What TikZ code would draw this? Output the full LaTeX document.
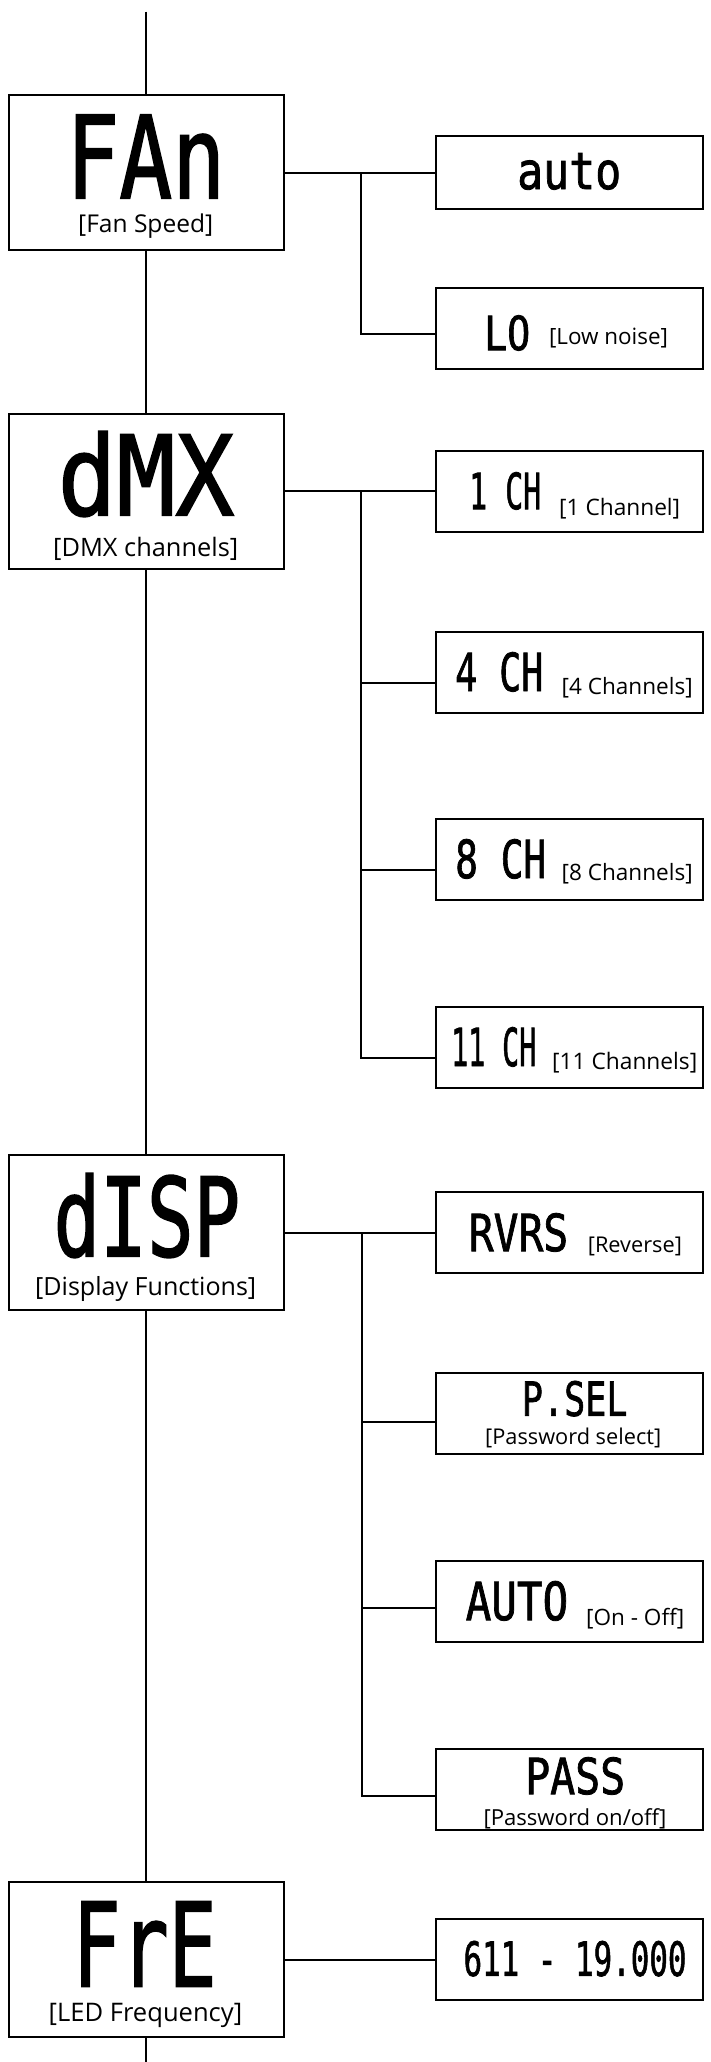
\documentclass[tikz,border=0pt]{standalone}
\usepackage{fontspec}
\usepackage{graphicx}
\usetikzlibrary{calc}
\newfontfamily\segfont[FakeBold=1.6]{DejaVu Sans Mono}
\newfontfamily\labfont{Open Sans}
\newcommand\segtxt[3]{\resizebox{#1pt}{#2pt}{\segfont #3}}
\newcommand\labtxt[2]{\resizebox{#1pt}{!}{\labfont #2}}
\tikzset{
  mainbox/.style={draw, line width=2pt, minimum width=274.5pt, minimum height=155pt, inner sep=0pt},
  optbox/.style={draw, line width=2pt, minimum width=267pt, minimum height=81pt, inner sep=0pt},
  seg/.style={anchor=south west, inner sep=0pt},
  lab/.style={anchor=north west, inner sep=0pt},
  wire/.style={line width=2pt},
}
\begin{document}
\begin{tikzpicture}[x=1pt,y=-1pt]
\useasboundingbox (0,0) rectangle (710,2062);

% main boxes
\node[mainbox] (fan)  at (146.25,172.8)  {};
\node[mainbox] (dmx)  at (146.25,491.3)  {};
\node[mainbox] (disp) at (146.25,1232.8) {};
\node[mainbox] (fre)  at (146.25,1959.7) {};

% option boxes
\node[optbox, minimum height=73pt] (auto) at (569.5,172.8) {};
\node[optbox] (lo)    at (569.5,328.75) {};
\node[optbox] (ch1)   at (569.5,491.3)  {};
\node[optbox] (ch4)   at (569.5,672.8)  {};
\node[optbox] (ch8)   at (569.5,859.5)  {};
\node[optbox] (ch11)  at (569.5,1047.7) {};
\node[optbox] (rvrs)  at (569.5,1232.8) {};
\node[optbox] (psel)  at (569.5,1413)   {};
\node[optbox] (onoff) at (569.5,1601.7) {};
\node[optbox] (pass)  at (569.5,1789.5) {};
\node[optbox] (freq)  at (569.5,1959.7) {};

% main texts
\node[seg] (fan-d)  at (66,198.3)    {\segtxt{159}{83.3}{FAn}};
\node[lab] (fan-l)  at (78,213.3)    {\labtxt{135}{[Fan Speed]}};
\node[seg] (dmx-d)  at (57.5,517)    {\segtxt{176.5}{84}{dMX}};
\node[lab] (dmx-l)  at (53,536.7)    {\labtxt{185}{[DMX channels]}};
\node[seg] (disp-d) at (53.4,1258)   {\segtxt{186.6}{83}{dISP}};
\node[lab] (disp-l) at (35,1276.7)   {\labtxt{221}{[Display Functions]}};
\node[seg] (fre-d)  at (72.4,1986.7) {\segtxt{144}{85}{FrE}};
\node[lab] (fre-l)  at (48.5,2003.3) {\labtxt{193.5}{[LED Frequency]}};

% option texts
\node[seg] (auto-d)  at (517,190)     {\segtxt{104}{36}{auto}};
\node[seg] (lo-d)    at (484,351)     {\segtxt{46}{35}{LO}};
\node[lab] (lo-l)    at (548.8,328)   {\labtxt{119}{[Low noise]}};
\node[seg] (ch1-d)   at (469,510)     {\segtxt{72}{37}{1 CH}};
\node[lab] (ch1-l)   at (559,498.3)   {\labtxt{121}{[1 Channel]}};
\node[seg] (ch4-d)   at (455,692)     {\segtxt{88}{39}{4 CH}};
\node[lab] (ch4-l)   at (561.5,676.7) {\labtxt{131}{[4 Channels]}};
\node[seg] (ch8-d)   at (455,879)     {\segtxt{91}{39}{8 CH}};
\node[lab] (ch8-l)   at (561.5,863.3) {\labtxt{131}{[8 Channels]}};
\node[seg] (ch11-d)  at (451,1067)    {\segtxt{85}{39}{11 CH}};
\node[lab] (ch11-l)  at (552,1051.7)  {\labtxt{145}{[11 Channels]}};
\node[seg] (rvrs-d)  at (468.6,1252)  {\segtxt{99.4}{38}{RVRS}};
\node[lab] (rvrs-l)  at (587.7,1236.7){\labtxt{94}{[Reverse]}};
\node[seg] (psel-d)  at (521.7,1416.7){\segtxt{105.6}{35}{P.SEL}};
\node[lab] (psel-l)  at (485,1428)    {\labtxt{176}{[Password select]}};
\node[seg] (onoff-d) at (465.5,1621)  {\segtxt{102.5}{39}{AUTO}};
\node[lab] (onoff-l) at (586,1608.3)  {\labtxt{98}{[On - Off]}};
\node[seg] (pass-d)  at (525,1795)    {\segtxt{100}{37}{PASS}};
\node[lab] (pass-l)  at (483.3,1808)  {\labtxt{183}{[Password on/off]}};
\node[seg] (freq-d)  at (463.3,1976.7){\segtxt{223}{35}{611 - 19.000}};

% trunk
\coordinate (top) at (146.25,11.7);
\coordinate (bot) at (146.25,2062);
\draw[wire] (top) -- (fan.north);
\draw[wire] (fan.south) -- (dmx.north);
\draw[wire] (dmx.south) -- (disp.north);
\draw[wire] (disp.south) -- (fre.north);
\draw[wire] (fre.south) -- (bot);

% branch points and inputs
\coordinate (fb) at ($(fan.east)!0.505!(auto.west)$);
\coordinate (db) at ($(dmx.east)!0.505!(ch1.west)$);
\coordinate (sb) at ($(disp.east)!0.517!(rvrs.west)$);
\coordinate (lo-in)    at ([yshift=-5.25pt]lo.west);
\coordinate (ch4-in)   at ([yshift=-9.9pt]ch4.west);
\coordinate (ch8-in)   at ([yshift=-10.2pt]ch8.west);
\coordinate (ch11-in)  at ([yshift=-10pt]ch11.west);
\coordinate (psel-in)  at ([yshift=-9pt]psel.west);
\coordinate (onoff-in) at ([yshift=-6.6pt]onoff.west);
\coordinate (pass-in)  at ([yshift=-6.5pt]pass.west);

% FAn branch
\draw[wire] (fan.east) -- (auto.west);
\draw[wire] (fb) |- (lo-in);
% dMX branch
\draw[wire] (dmx.east) -- (ch1.west);
\draw[wire] (db) |- (ch4-in);
\draw[wire] (db) |- (ch8-in);
\draw[wire] (db) |- (ch11-in);
% dISP branch
\draw[wire] (disp.east) -- (rvrs.west);
\draw[wire] (sb) |- (psel-in);
\draw[wire] (sb) |- (onoff-in);
\draw[wire] (sb) |- (pass-in);
% FrE branch
\draw[wire] (fre.east) -- (freq.west);
\end{tikzpicture}
\end{document}
